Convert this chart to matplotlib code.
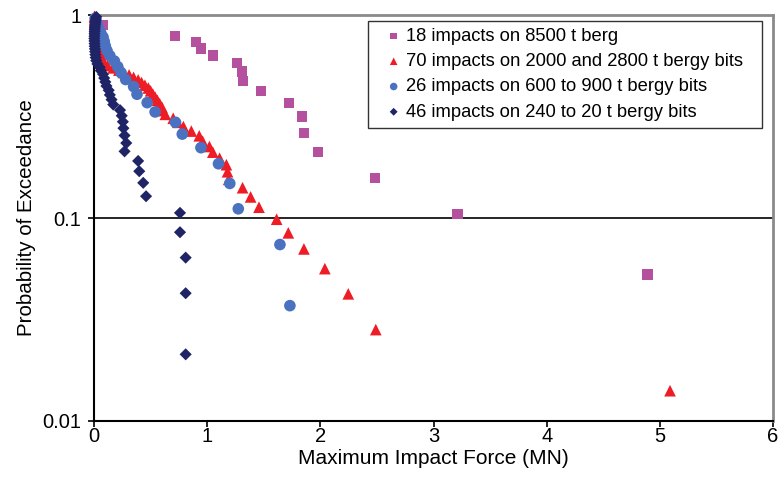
import matplotlib
matplotlib.use("Agg")
import matplotlib.pyplot as plt
from matplotlib.ticker import FixedLocator, FixedFormatter, NullLocator

# --- data ---
berg_x = [0.00, 0.02, 0.08, 0.716, 0.90, 0.943, 1.05, 1.263, 1.307, 1.314,
          1.477, 1.723, 1.835, 1.855, 1.979, 2.48, 3.213, 4.89]
berg_p = [0.842, 0.947, 0.895, 0.789, 0.737, 0.684, 0.632, 0.579, 0.526, 0.474,
          0.421, 0.368, 0.316, 0.263, 0.211, 0.158, 0.105, 0.0526]

bits_x = [5.09, 2.49, 2.247, 2.04, 1.855, 1.717, 1.614, 1.458, 1.384, 1.313,
          1.19, 1.18, 1.17, 1.11, 1.05, 1.02, 0.96, 0.93, 0.86, 0.79,
          0.74, 0.70, 0.63, 0.61, 0.60, 0.58, 0.56, 0.54, 0.52, 0.50,
          0.48, 0.45, 0.42, 0.39, 0.35, 0.31, 0.26, 0.22, 0.17, 0.12,
          0.09, 0.08, 0.07, 0.065, 0.06, 0.055, 0.05, 0.048, 0.046, 0.044,
          0.042, 0.040, 0.038, 0.036, 0.034, 0.032, 0.030, 0.028, 0.026, 0.024,
          0.022, 0.020, 0.018, 0.016, 0.014, 0.012, 0.010, 0.008, 0.006, 0.004]
bits_p = [0.0141, 0.0282, 0.0423, 0.0563, 0.0704, 0.0845, 0.0986, 0.113, 0.127, 0.141,
          0.155, 0.169, 0.183, 0.197, 0.211, 0.225, 0.239, 0.254, 0.268, 0.282,
          0.296, 0.310, 0.324, 0.338, 0.352, 0.366, 0.380, 0.394, 0.408, 0.423,
          0.437, 0.451, 0.465, 0.479, 0.493, 0.507, 0.521, 0.535, 0.549, 0.563,
          0.577, 0.592, 0.606, 0.620, 0.634, 0.648, 0.662, 0.676, 0.690, 0.704,
          0.718, 0.732, 0.746, 0.761, 0.775, 0.789, 0.803, 0.817, 0.831, 0.845,
          0.859, 0.873, 0.887, 0.901, 0.915, 0.930, 0.944, 0.958, 0.972, 0.986]

mid_x = [1.731, 1.643, 1.275, 1.20, 1.10, 0.945, 0.78, 0.72, 0.54, 0.47,
         0.38, 0.35, 0.28, 0.24, 0.21, 0.18, 0.14, 0.115, 0.10, 0.09,
         0.08, 0.06, 0.04, 0.03, 0.02, 0.01]
mid_p = [0.037, 0.074, 0.111, 0.148, 0.185, 0.222, 0.259, 0.296, 0.333, 0.370,
         0.407, 0.444, 0.481, 0.519, 0.556, 0.593, 0.630, 0.667, 0.704, 0.741,
         0.778, 0.815, 0.852, 0.889, 0.926, 0.963]

small_x = [0.81, 0.81, 0.81, 0.76, 0.76, 0.46, 0.435, 0.40, 0.39, 0.27,
           0.285, 0.27, 0.26, 0.255, 0.245, 0.23, 0.17, 0.155, 0.14, 0.13,
           0.11, 0.10, 0.09, 0.08, 0.06, 0.05, 0.03, 0.02, 0.015, 0.012,
           0.010, 0.008, 0.006, 0.005, 0.004, 0.003, 0.004, 0.005, 0.006, 0.007,
           0.008, 0.010, 0.012, 0.014, 0.016, 0.020]
small_p = [0.0213, 0.0426, 0.0638, 0.0851, 0.106, 0.128, 0.149, 0.170, 0.191, 0.213,
           0.234, 0.255, 0.277, 0.298, 0.319, 0.340, 0.362, 0.383, 0.404, 0.426,
           0.447, 0.468, 0.489, 0.511, 0.532, 0.553, 0.574, 0.596, 0.617, 0.638,
           0.660, 0.681, 0.702, 0.723, 0.745, 0.766, 0.787, 0.809, 0.830, 0.851,
           0.872, 0.894, 0.915, 0.936, 0.957, 0.979]

labels = ["18 impacts on 8500 t berg",
          "70 impacts on 2000 and 2800 t bergy bits",
          "26 impacts on 600 to 900 t bergy bits",
          "46 impacts on 240 to 20 t bergy bits"]

x_ticks = [0, 1, 2, 3, 4, 5, 6]
y_ticks = [0.01, 0.1, 1]
y_tick_labels = ["0.01", "0.1", "1"]

plt.rcParams['font.family'] = ['Liberation Sans', 'DejaVu Sans']

fig = plt.figure(figsize=(7.79, 4.95), dpi=100)
ax_left, ax_right, ax_top, ax_bottom = 94, 773, 15, 421
ax = fig.add_axes([ax_left/779, 1 - ax_bottom/495, (ax_right - ax_left)/779,
                   (ax_bottom - ax_top)/495])

ax.scatter(berg_x, berg_p, marker='s', s=55, color='#B5509F', edgecolors='none',
           label=labels[0], clip_on=False, zorder=3)
ax.scatter(bits_x, bits_p, marker='^', s=70, color='#EE1C25', edgecolors='none',
           label=labels[1], clip_on=False, zorder=4)
ax.scatter(mid_x, mid_p, marker='o', s=70, color='#4A72C0', edgecolors='none',
           label=labels[2], clip_on=False, zorder=5)
ax.scatter(small_x, small_p, marker='D', s=38, color='#1E2466', edgecolors='none',
           label=labels[3], clip_on=False, zorder=6)

ax.set_yscale('log')
ax.set_xlim(0, 6)
ax.set_ylim(0.01, 1)
ax.xaxis.set_major_locator(FixedLocator(x_ticks))
ax.yaxis.set_major_locator(FixedLocator(y_ticks))
ax.yaxis.set_major_formatter(FixedFormatter(y_tick_labels))
ax.yaxis.set_minor_locator(NullLocator())

ax.axhline(0.1, color='black', lw=1.2, zorder=1)

for side in ['left', 'bottom']:
    ax.spines[side].set_color('black')
    ax.spines[side].set_linewidth(1.5)
for side in ['top', 'right']:
    ax.spines[side].set_color('#8a8a8a')
    ax.spines[side].set_linewidth(2)

ax.tick_params(axis='both', direction='out', length=4, width=1.2, labelsize=14.5,
               colors='black')
ax.tick_params(axis='x', pad=0.5)
ax.tick_params(axis='y', pad=5)

ax.set_xlabel("Maximum Impact Force (MN)", fontsize=15, labelpad=2)
ax.set_ylabel("Probability of Exceedance", fontsize=14.8, labelpad=5)

aw = ax_right - ax_left
ah = ax_bottom - ax_top
lx0 = (368 - ax_left) / aw
lw = (762 - 368) / aw
ly1 = (ax_bottom - 20.5) / ah
leg = ax.legend(loc='upper left', bbox_to_anchor=(lx0, ly1 - 0.3, lw, 0.3),
                mode='expand', borderaxespad=0,
                fontsize=13.2, frameon=True, fancybox=False, handletextpad=-0.3,
                handlelength=2.0, borderpad=0.4, labelspacing=0.45,
                markerscale=0.65, scatterpoints=1)
leg.get_frame().set_edgecolor('black')
leg.get_frame().set_linewidth(1.0)

fig.savefig("out.png", dpi=100)
